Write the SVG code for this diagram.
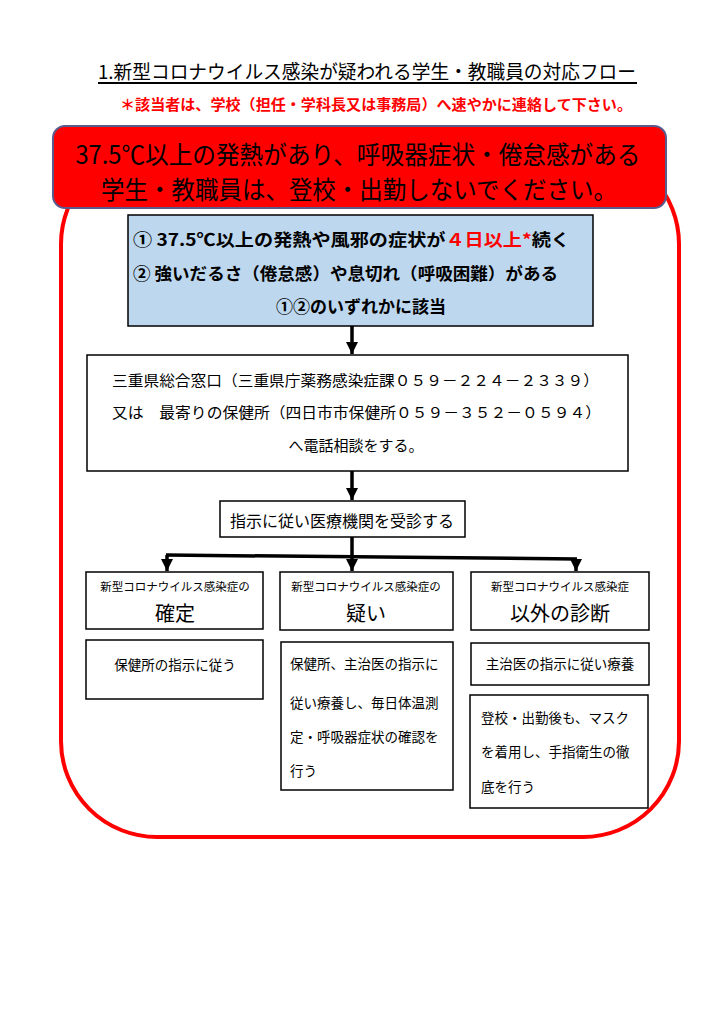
<svg xmlns="http://www.w3.org/2000/svg" width="724" height="1024" viewBox="0 0 724 1024">
<defs>
<style>
text{font-family:"Noto Sans CJK JP","Noto Sans",sans-serif;fill:#000}
.box{fill:#fff;stroke:#000;stroke-width:1.5}
.con{stroke:#000;stroke-width:3.5;fill:none}
.red{fill:#ff0000}
.c{text-anchor:middle}
.s13{font-size:13.5px}
</style>
<marker id="ah" markerUnits="userSpaceOnUse" markerWidth="14" markerHeight="14" refX="12" refY="7" orient="auto">
<path d="M0,1 L12,7 L0,13 Z" fill="#000"/>
</marker>
</defs>
<rect width="724" height="1024" fill="#fff"/>
<g id="title">
<text x="98" y="79" font-size="19" textLength="538" lengthAdjust="spacingAndGlyphs">1.新型コロナウイルス感染が疑われる学生・教職員の対応フロー</text>
<line x1="98" y1="83" x2="637" y2="83" stroke="#000" stroke-width="2"/>
<text x="120" y="110" font-size="14.5" font-weight="bold" class="red" textLength="512" lengthAdjust="spacingAndGlyphs">＊該当者は、学校（担任・学科長又は事務局）へ速やかに連絡して下さい。</text>
</g>
<g id="frame">
<rect x="61" y="148" width="618" height="689" rx="96" ry="96" fill="none" stroke="#ff0000" stroke-width="4"/>
</g>
<g id="warning">
<rect x="53" y="126" width="613" height="82" rx="12" ry="12" fill="#ff0000" stroke="#5a5a8c" stroke-width="2"/>
<text x="358" y="164" font-size="25" class="c" fill="#1a1a1a" textLength="565" lengthAdjust="spacingAndGlyphs">37.5℃以上の発熱があり、呼吸器症状・倦怠感がある</text>
<text x="359" y="199" font-size="25" class="c" fill="#1a1a1a" textLength="516" lengthAdjust="spacingAndGlyphs">学生・教職員は、登校・出勤しないでください。</text>
</g>
<g id="criteria">
<rect x="128" y="215" width="465" height="111" fill="#bdd7ee" stroke="#000" stroke-width="1.5"/>
<text x="133" y="246" font-size="17" font-weight="bold" textLength="437" lengthAdjust="spacingAndGlyphs">①  37.5℃以上の発熱や風邪の症状が<tspan class="red">４日以上*</tspan>続く</text>
<text x="133" y="280" font-size="17" font-weight="bold" textLength="425" lengthAdjust="spacingAndGlyphs">②  強いだるさ（倦怠感）や息切れ（呼吸困難）がある</text>
<text x="361" y="313" font-size="17" font-weight="bold" class="c">①②のいずれかに該当</text>
</g>
<g id="consult">
<rect class="box" x="87" y="355" width="541" height="116"/>
<text x="112" y="386" font-size="15" textLength="487" lengthAdjust="spacingAndGlyphs">三重県総合窓口（三重県庁薬務感染症課０５９－２２４－２３３９）</text>
<text x="112" y="418" font-size="15" textLength="489" lengthAdjust="spacingAndGlyphs">又は　最寄りの保健所（四日市市保健所０５９－３５２－０５９４）</text>
<text x="356" y="451" font-size="15" class="c">へ電話相談をする。</text>
</g>
<g id="visit">
<rect class="box" x="220" y="501" width="245" height="36"/>
<text x="342" y="527" font-size="16" class="c">指示に従い医療機関を受診する</text>
</g>
<g id="confirmed">
<rect class="box" x="86" y="572" width="177" height="57"/>
<text x="175" y="591" font-size="11.5" class="c">新型コロナウイルス感染症の</text>
<text x="175" y="621" font-size="20" class="c">確定</text>
</g>
<g id="suspected">
<rect class="box" x="280" y="572" width="173" height="58"/>
<text x="366" y="591" font-size="11.5" class="c">新型コロナウイルス感染症の</text>
<text x="366" y="621" font-size="20" class="c">疑い</text>
</g>
<g id="other">
<rect class="box" x="471" y="572" width="178" height="58"/>
<text x="560" y="591" font-size="11.5" class="c">新型コロナウイルス感染症</text>
<text x="560" y="621" font-size="20" class="c">以外の診断</text>
</g>
<g id="confirmed-action">
<rect class="box" x="86" y="640" width="177" height="59"/>
<text x="175" y="670" class="c s13">保健所の指示に従う</text>
</g>
<g id="suspected-action">
<rect class="box" x="281" y="642" width="172" height="148"/>
<text x="290" y="669" class="s13">保健所、主治医の指示に</text>
<text x="290" y="708" class="s13">従い療養し、毎日体温測</text>
<text x="290" y="742" class="s13">定・呼吸器症状の確認を</text>
<text x="290" y="776" class="s13">行う</text>
</g>
<g id="other-action">
<rect class="box" x="471" y="643" width="178" height="42"/>
<text x="560" y="669" class="c s13">主治医の指示に従い療養</text>
</g>
<g id="other-note">
<rect class="box" x="470" y="695" width="178" height="113"/>
<text x="481" y="723" class="s13">登校・出勤後も、マスク</text>
<text x="481" y="757" class="s13">を着用し、手指衛生の徹</text>
<text x="481" y="792" class="s13">底を行う</text>
</g>
<g id="connectors">
<line class="con" x1="352" y1="326" x2="352" y2="354" marker-end="url(#ah)"/>
<line class="con" x1="352" y1="471" x2="352" y2="500" marker-end="url(#ah)"/>
<polyline class="con" points="352,537 352,556"/>
<line class="con" x1="166" y1="555" x2="577" y2="559"/>
<line class="con" x1="167" y1="555" x2="167" y2="571" marker-end="url(#ah)"/>
<line class="con" x1="352" y1="556" x2="352" y2="571" marker-end="url(#ah)"/>
<line class="con" x1="576" y1="559" x2="576" y2="571" marker-end="url(#ah)"/>
</g>
</svg>
